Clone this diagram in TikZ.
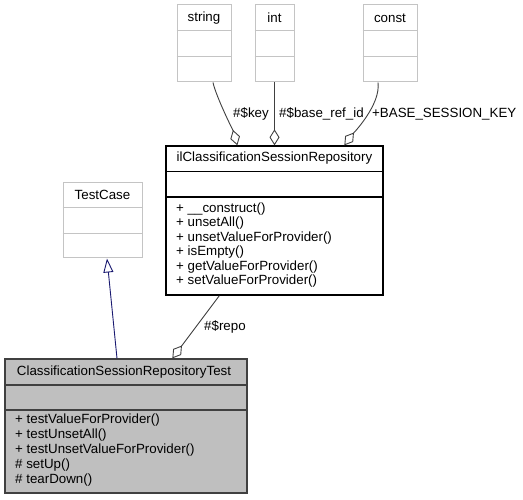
\documentclass[tikz,border=0pt]{standalone}
\usepackage{fontspec}
\setmainfont{Liberation Sans}
\usetikzlibrary{arrows.meta,calc}
\definecolor{edgegray}{HTML}{404040}
\definecolor{boxgray}{HTML}{BFBFBF}
\definecolor{lightborder}{HTML}{C4C4C4}
\definecolor{inhblue}{HTML}{191970}
\begin{document}
\begin{tikzpicture}[x=1pt,y=-1pt,
  lbl/.style={font=\fontsize{13.33}{14.5}\selectfont,inner sep=0pt,text=black},
  meth/.style={lbl,align=left,anchor=west},
  extbox/.style={draw=lightborder,line width=1pt,inner sep=0pt},
  mainbox/.style={draw=black,line width=1.3pt,inner sep=0pt},
  selbox/.style={draw=edgegray,fill=boxgray,line width=1.3pt,inner sep=0pt},
  edge/.style={draw=edgegray,line width=0.9pt},
  agg/.style={edge,{Diamond[open,length=16pt,width=10pt,line width=0.9pt]}-},
  inh/.style={draw=inhblue,line width=0.9pt,{Triangle[open,length=14pt,width=10pt,line width=0.9pt]}-}
]
\useasboundingbox (0,0) rectangle (523,500);
% boxes
\node[extbox,minimum width=54pt,minimum height=77pt] (str) at (204,43.5) {};
\node[extbox,minimum width=39pt,minimum height=77pt] (int) at (274.5,43.5) {};
\node[extbox,minimum width=54pt,minimum height=77pt] (cst) at (390,43.5) {};
\node[mainbox,minimum width=217pt,minimum height=149pt] (repo) at (274.5,220.5) {};
\node[extbox,minimum width=79pt,minimum height=75pt] (tc) at (102.5,220.5) {};
\node[selbox,minimum width=242pt,minimum height=134pt] (test) at (126,426) {};
% dividers
\draw[draw=lightborder,line width=1pt] (str.west |- 0,31) -- (str.east |- 0,31) (str.west |- 0,57) -- (str.east |- 0,57);
\draw[draw=lightborder,line width=1pt] (int.west |- 0,31) -- (int.east |- 0,31) (int.west |- 0,57) -- (int.east |- 0,57);
\draw[draw=lightborder,line width=1pt] (cst.west |- 0,31) -- (cst.east |- 0,31) (cst.west |- 0,57) -- (cst.east |- 0,57);
\draw[draw=lightborder,line width=1pt] (tc.west |- 0,208) -- (tc.east |- 0,208) (tc.west |- 0,233.5) -- (tc.east |- 0,233.5);
\draw[draw=black,line width=1.3pt] (repo.west |- 0,171.5) -- (repo.east |- 0,171.5) (repo.west |- 0,197) -- (repo.east |- 0,197);
\draw[draw=edgegray,line width=1.3pt] (test.west |- 0,385) -- (test.east |- 0,385) (test.west |- 0,410) -- (test.east |- 0,410);
% texts
\node[lbl] (strt) at (204,18) {string};
\node[lbl] (intt) at (274.5,18) {int};
\node[lbl] (cstt) at (390,18) {const};
\node[lbl] (repot) at (274.5,158) {ilClassificationSessionRepository};
\node[meth] (repom) at (176,245) {+ \_\_construct()\\+ unsetAll()\\+ unsetValueForProvider()\\+ isEmpty()\\+ getValueForProvider()\\+ setValueForProvider()};
\node[lbl] (tct) at (102.5,195) {TestCase};
\node[lbl] (testt) at (124,372) {ClassificationSessionRepositoryTest};
\node[meth,font=\fontsize{13.33}{15}\selectfont] (testm) at (15,450) {+ testValueForProvider()\\+ testUnsetAll()\\+ testUnsetValueForProvider()\\\# setUp()\\\# tearDown()};
% connectors
\draw[agg] ([xshift=72pt]repo.north west) .. controls +(-4,-14) and +(3,14) .. ([xshift=9pt]str.south);
\draw[agg] (int.south |- repo.north) -- (int.south);
\draw[agg] ([xshift=179pt]repo.north west) .. controls +(9,-12) and +(3,22) .. ([xshift=-12pt]cst.south);
\draw[agg] ([xshift=168pt]test.north west) -- ([xshift=54pt]repo.south west);
\draw[inh] ([xshift=4.5pt]tc.south) -- ([xshift=-9pt]test.north);
% edge labels
\node[lbl,anchor=west] (lkey) at (233,114) {\#\$key};
\node[lbl,anchor=west] (lbase) at (279,114) {\#\$base\_ref\_id};
\node[lbl,anchor=west] (lconst) at (372,114) {+BASE\_SESSION\_KEY};
\node[lbl,anchor=west] (lrepo) at (204,327) {\#\$repo};
\end{tikzpicture}
\end{document}
